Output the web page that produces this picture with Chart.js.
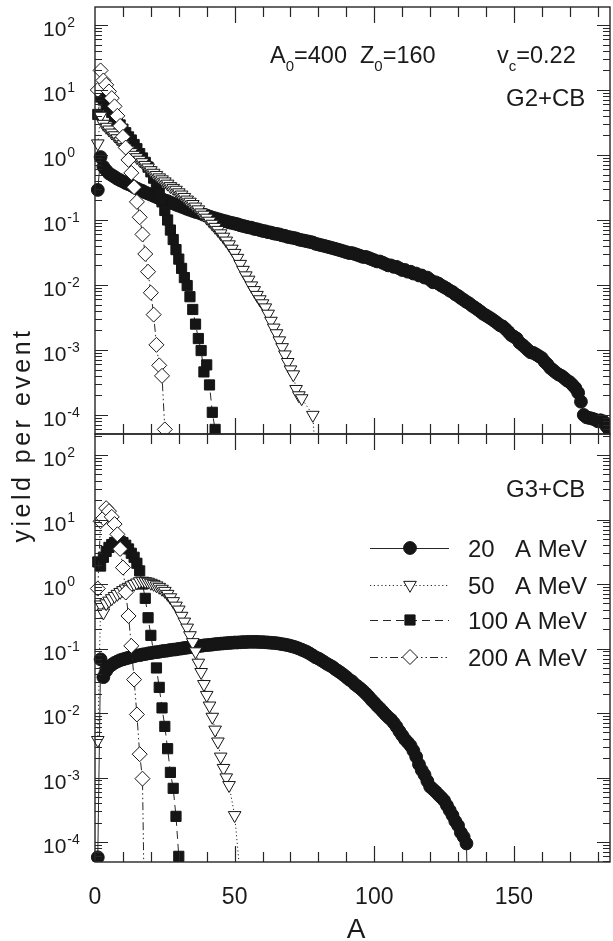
<!DOCTYPE html>
<html>
<head>
<meta charset="utf-8">
<script src="https://cdn.jsdelivr.net/npm/chart.js@4.4.1/dist/chart.umd.min.js"></script>
<style>
  html, body { margin: 0; padding: 0; background: #fff; }
  #wrap { position: relative; width: 613px; height: 941px; }
  canvas { position: absolute; left: 0; top: 0; }
</style>
</head>
<body>
<div id="wrap">
  <canvas id="topPanel" width="613" height="941"></canvas>
  <canvas id="bottomPanel" width="613" height="941"></canvas>
</div>
<script>
// Fragment mass number A runs 1, 2, 3 ... along each series (null = no yield at that A).
const energies = ['20', '50', '100', '200'];

// Upper panel: G2+CB
const g2cb20 = [
  0.29, 0.93, 0.66, 0.58, 0.52, 0.49, 0.46, 0.43, 0.41, 0.39,
  0.37, 0.355, 0.34, 0.32, 0.305, 0.29, 0.28, 0.265, 0.255, 0.245,
  0.235, 0.225, 0.215, 0.21, 0.2, 0.195, 0.185, 0.18, 0.172, 0.166,
  0.16, 0.154, 0.148, 0.143, 0.138, 0.133, 0.13, 0.125, 0.12, 0.117,
  0.113, 0.109, 0.106, 0.103, 0.1, 0.097, 0.095, 0.092, 0.09, 0.088,
  0.086, 0.083, 0.081, 0.079, 0.077, 0.076, 0.073, 0.072, 0.07, 0.068,
  0.067, 0.065, 0.064, 0.062, 0.061, 0.06, 0.058, 0.057, 0.055, 0.054,
  0.053, 0.052, 0.05, 0.049, 0.048, 0.047, 0.046, 0.045, 0.043, 0.042,
  0.041, 0.04, 0.039, 0.038, 0.037, 0.036, 0.035, 0.034, 0.033, 0.032,
  0.031, 0.031, 0.03, 0.029, 0.028, 0.027, 0.027, 0.026, 0.025, 0.024,
  0.023, 0.023, 0.022, 0.021, 0.02, 0.02, 0.019, 0.019, 0.018, 0.017,
  0.017, 0.016, 0.016, 0.015, 0.015, 0.014, 0.014, 0.013, 0.013, 0.012,
  0.011, 0.011, 0.0105, 0.0098, 0.0093, 0.0088, 0.0082, 0.0078, 0.0072, 0.0068,
  0.0063, 0.0059, 0.0055, 0.0052, 0.0048, 0.0045, 0.0042, 0.0039, 0.0036, 0.0034,
  0.0032, 0.003, 0.0028, 0.0026, 0.0024, 0.0023, 0.0021, 0.0019, 0.0017, 0.0016,
  0.0015, 0.0013, 0.0012, 0.0011, 0.001, 0.00092, 0.0009, 0.00085, 0.0008, 0.00075,
  0.00066, 0.0006, 0.00053, 0.00049, 0.00045, 0.00042, 0.0004, 0.00037, 0.00034, 0.00032,
  0.00029, 0.00026, 0.00022, 0.00016, 0.0001, 0.000092, 0.00009, 0.000088, 0.000085, 0.00008,
  0.000083, 0.00008, 0.000068, 0.00006
];
const g2cb50 = [
  1.5, 4.0, 3.0, 2.7, 2.45, 2.2, 2.0, 1.8, 1.62, 1.46,
  1.32, 1.2, 1.1, 1.0, 0.92, 0.84, 0.77, 0.7, 0.64, 0.58,
  0.53, 0.49, 0.45, 0.42, 0.39, 0.36, 0.33, 0.31, 0.29, 0.265,
  0.245, 0.225, 0.205, 0.19, 0.175, 0.16, 0.145, 0.13, 0.12, 0.108,
  0.097, 0.087, 0.078, 0.07, 0.062, 0.055, 0.048, 0.042, 0.036, 0.031,
  0.026, 0.021, 0.017, 0.014, 0.012, 0.0098, 0.0083, 0.007, 0.006, 0.0052,
  0.0045, 0.0036, 0.0028, 0.0022, 0.0018, 0.0014, 0.0011, 0.00085, 0.00065, 0.0005,
  0.00042, 0.00025, 0.0002, 0.00018, null, null, null, 0.0001, 0.00002
];
const g2cb100 = [
  4.2, 7.8, 7.0, 6.0, 5.2, 4.5, 3.9, 3.3, 2.9, 2.5,
  2.2, 1.9, 1.7, 1.45, 1.25, 1.05, 0.9, 0.77, 0.65, 0.55,
  0.44, 0.34, 0.26, 0.19, 0.14, 0.1, 0.07, 0.05, 0.035, 0.025,
  0.018, 0.013, 0.0098, 0.0066, 0.0042, 0.0025, 0.0015, 0.00098, 0.00046, 0.00059,
  0.00029, 0.00011, 0.00006
];
const g2cb200 = [
  10, 20, 14, 12, 9.5, 7.5, 5.6, 4.0, 2.8, 1.9,
  1.3, 0.84, 0.53, 0.32, 0.19, 0.11, 0.06, 0.03, 0.016, 0.0076,
  0.0035, 0.0012, 0.00058, 0.0004, 0.00006
];

// Lower panel: G3+CB
const g3cb20 = [
  0.000058, 0.068, 0.036, 0.045, 0.052, 0.056, 0.06, 0.063, 0.066, 0.068,
  0.07, 0.072, 0.074, 0.076, 0.078, 0.079, 0.081, 0.082, 0.084, 0.085,
  0.087, 0.088, 0.089, 0.091, 0.092, 0.093, 0.095, 0.096, 0.097, 0.099,
  0.1, 0.102, 0.103, 0.105, 0.106, 0.108, 0.109, 0.11, 0.112, 0.113,
  0.114, 0.115, 0.117, 0.118, 0.119, 0.12, 0.121, 0.122, 0.123, 0.124,
  0.124, 0.125, 0.126, 0.126, 0.127, 0.127, 0.127, 0.127, 0.126, 0.126,
  0.125, 0.124, 0.123, 0.122, 0.121, 0.119, 0.117, 0.115, 0.113, 0.11,
  0.107, 0.104, 0.1, 0.096, 0.092, 0.088, 0.083, 0.078, 0.073, 0.07,
  0.066, 0.062, 0.058, 0.055, 0.052, 0.048, 0.045, 0.042, 0.039, 0.036,
  0.033, 0.031, 0.028, 0.026, 0.024, 0.022, 0.02, 0.018, 0.016, 0.0145,
  0.013, 0.0118, 0.0106, 0.0095, 0.0086, 0.0079, 0.007, 0.0061, 0.0052, 0.0045,
  0.0039, 0.0035, 0.0031, 0.0026, 0.0021, 0.0016, 0.0013, 0.0011, 0.00088, 0.00072,
  0.00066, 0.0006, 0.00054, 0.00049, 0.00044, 0.00037, 0.00031, 0.00026, 0.00021, 0.00018,
  0.00014, 0.00012, 0.000095, 0.000001
];
const g3cb50 = [
  0.0038, 0.48, 0.36, 0.5, 0.55, 0.6, 0.65, 0.7, 0.75, 0.8,
  0.85, 0.9, 0.95, 1.0, 1.05, 1.1, 1.12, 1.1, 1.08, 1.04,
  1.0, 0.95, 0.9, 0.84, 0.78, 0.7, 0.62, 0.54, 0.46, 0.4,
  0.32, 0.26, 0.21, 0.16, 0.125, 0.09, 0.06, 0.043, 0.028, 0.019,
  0.013, 0.0087, 0.0055, 0.0036, 0.0021, 0.0014, 0.001, 0.00076, null, 0.00026,
  null, 0.00003
];
const g3cb100 = [
  2.2, 1.9, 2.6, 3.2, 3.7, 4.1, 4.4, 4.6, 4.6, 4.4,
  4.0, 3.5, 3.0, 2.6, 2.1, 1.6, 1.0, 0.6, 0.3, 0.16,
  0.087, 0.05, 0.025, 0.012, 0.0062, 0.0028, 0.0012, 0.00068, 0.00025, 0.00006
];
const g3cb200 = [
  0.85, 9.4, 10.5, 15, 13.5, 11, 8.5, 5.9, 3.5, 1.8,
  0.74, 0.32, 0.11, 0.033, 0.0095, 0.0023, 0.00096, 0.000001
];

// Axis ticks and labels
const xTickLabels = ['0', '50', '100', '150'];
const xMinorStep = 10;
const yTickExponents = ['2', '1', '0', '-1', '-2', '-3', '-4'];
const legendNumbers = ['20', '50', '100', '200'];
const legendUnit = 'A MeV';

const FONT = '"Liberation Sans", Arial, sans-serif';
const INK = '#262626';

const markStyles = {
  '20':  { pointStyle: 'circle',  pointRadius: 6.4, pointRotation: 0,   pointBackgroundColor: '#151515', borderDash: [],                     order: 3 },
  '50':  { pointStyle: 'triangle', pointRadius: 7.3, pointRotation: 180, pointBackgroundColor: '#ffffff', borderDash: [1.2, 2.6],            order: 1 },
  '100': { pointStyle: 'rect',    pointRadius: 7.2, pointRotation: 0,   pointBackgroundColor: '#151515', borderDash: [8, 5],                 order: 2 },
  '200': { pointStyle: 'rectRot', pointRadius: 7.5, pointRotation: 0,   pointBackgroundColor: '#ffffff', borderDash: [8, 3, 1.5, 3, 1.5, 3], order: 0 }
};

function toPoints(values) {
  return values.map((v, i) => ({ x: i + 1, y: v }));
}

function makeDataset(energy, values) {
  const s = markStyles[energy];
  return {
    label: energy + ' A MeV',
    data: toPoints(values),
    borderColor: INK,
    borderWidth: 1,
    borderDash: s.borderDash,
    pointStyle: s.pointStyle,
    pointRadius: s.pointRadius,
    pointRotation: s.pointRotation,
    pointBackgroundColor: s.pointBackgroundColor,
    pointBorderColor: '#151515',
    pointBorderWidth: 1,
    spanGaps: true,
    tension: 0,
    order: s.order,
    clip: { left: 10, top: 0, right: 0, bottom: 0 }
  };
}

function drawRich(ctx, parts, x, y) {
  let cx = x;
  for (const p of parts) {
    ctx.font = p.size + 'px ' + FONT;
    ctx.fillText(p.text, cx, y + (p.dy || 0));
    cx += ctx.measureText(p.text).width;
  }
}

function drawMarker(ctx, style, x, y) {
  const r = style.pointRadius;
  ctx.beginPath();
  if (style.pointStyle === 'circle') {
    ctx.arc(x, y, r, 0, Math.PI * 2);
  } else if (style.pointStyle === 'triangle') {
    for (let k = 0; k < 3; k++) {
      const a = Math.PI + k * 2 * Math.PI / 3;
      const px = x + Math.sin(a) * r, py = y - Math.cos(a) * r;
      if (k === 0) ctx.moveTo(px, py); else ctx.lineTo(px, py);
    }
    ctx.closePath();
  } else if (style.pointStyle === 'rect') {
    const h = r * Math.SQRT1_2;
    ctx.rect(x - h, y - h, 2 * h, 2 * h);
  } else {
    ctx.moveTo(x, y - r); ctx.lineTo(x + r, y); ctx.lineTo(x, y + r); ctx.lineTo(x - r, y);
    ctx.closePath();
  }
  ctx.fillStyle = style.pointBackgroundColor;
  ctx.fill();
  ctx.lineWidth = 1;
  ctx.setLineDash([]);
  ctx.strokeStyle = '#151515';
  ctx.stroke();
}

const framePlugin = {
  id: 'frame',
  afterDraw(chart) {
    const cfg = chart.options.plugins.frame;
    const { ctx, chartArea: a } = chart;
    const xs = chart.scales.x, ys = chart.scales.y;
    ctx.save();
    ctx.strokeStyle = INK;
    ctx.lineWidth = 1.4;
    ctx.setLineDash([]);
    ctx.strokeRect(a.left, a.top, a.right - a.left, a.bottom - a.top);

    // log ticks on both vertical edges, pointing inward
    ctx.beginPath();
    ctx.lineWidth = 1.2;
    const lo = Math.floor(Math.log10(ys.min)), hi = Math.ceil(Math.log10(ys.max));
    for (let e = lo; e <= hi; e++) {
      for (let m = 1; m <= 9; m++) {
        const v = m * Math.pow(10, e);
        if (v < ys.min || v > ys.max) continue;
        const py = Math.round(ys.getPixelForValue(v)) + 0.5;
        const len = m === 1 ? 13 : 7;
        ctx.moveTo(a.left, py); ctx.lineTo(a.left + len, py);
        ctx.moveTo(a.right, py); ctx.lineTo(a.right - len, py);
      }
    }
    // linear ticks on both horizontal edges, pointing inward
    const majors = xTickLabels.map(Number);
    for (let v = xMinorStep; v <= xs.max; v += xMinorStep) {
      const px = Math.round(xs.getPixelForValue(v)) + 0.5;
      const len = majors.includes(v) ? 16 : 10;
      ctx.moveTo(px, a.top); ctx.lineTo(px, a.top + len);
      ctx.moveTo(px, a.bottom); ctx.lineTo(px, a.bottom - len);
    }
    ctx.stroke();

    // decade labels 10^n
    ctx.fillStyle = '#1a1a1a';
    ctx.textAlign = 'left';
    ctx.textBaseline = 'alphabetic';
    for (const ex of yTickExponents) {
      const py = ys.getPixelForValue(Math.pow(10, Number(ex)));
      ctx.font = '21px ' + FONT;
      ctx.fillText('10', 43, py + 11);
      const w = ctx.measureText('10').width;
      ctx.font = '14px ' + FONT;
      ctx.fillText(ex, 43 + w + 1, py + 2);
    }

    if (cfg.xLabels) {
      ctx.font = '23px ' + FONT;
      ctx.textAlign = 'center';
      for (const t of xTickLabels) {
        ctx.fillText(t, xs.getPixelForValue(Number(t)), 904);
      }
      ctx.font = '28px ' + FONT;
      ctx.fillText('A', 356, 938);

      // vertical axis title shared by both panels
      ctx.save();
      ctx.translate(30, 435);
      ctx.rotate(-Math.PI / 2);
      ctx.font = '25px ' + FONT;
      ctx.letterSpacing = '3.5px';
      ctx.textAlign = 'center';
      ctx.fillText('yield per event', 0, 0);
      ctx.restore();
    }

    ctx.textAlign = 'left';
    if (cfg.header) {
      drawRich(ctx, [
        { text: 'A', size: 23.5 }, { text: '0', size: 15, dy: 8 }, { text: '=400  ', size: 23.5 },
        { text: 'Z', size: 23.5 }, { text: '0', size: 15, dy: 8 }, { text: '=160', size: 23.5 }
      ], 270, 63);
      drawRich(ctx, [
        { text: 'v', size: 23.5 }, { text: 'c', size: 15, dy: 8 }, { text: '=0.22', size: 23.5 }
      ], 497, 63);
    }
    ctx.font = '24px ' + FONT;
    ctx.fillText(cfg.tag, 506, cfg.tagY);

    if (cfg.legend) {
      const rows = [548, 585, 620, 657];
      energies.forEach((en, i) => {
        const st = markStyles[en];
        const ry = rows[i];
        ctx.beginPath();
        ctx.strokeStyle = INK;
        ctx.lineWidth = 1;
        ctx.setLineDash(st.borderDash);
        ctx.moveTo(370, ry + 0.5); ctx.lineTo(449, ry + 0.5);
        ctx.stroke();
        drawMarker(ctx, st, 410, ry);
        ctx.fillStyle = '#1a1a1a';
        ctx.font = '24px ' + FONT;
        ctx.fillText(legendNumbers[i], 468, ry + 9);
        ctx.fillText(legendUnit, 515, ry + 9);
      });
    }
    ctx.restore();
  }
};

function makeChart(id, sets, yMin, yMax, padding, frame) {
  return new Chart(document.getElementById(id), {
    type: 'line',
    data: { datasets: energies.map((en, i) => makeDataset(en, sets[i])) },
    options: {
      responsive: false,
      maintainAspectRatio: false,
      animation: false,
      events: [],
      layout: { padding: padding, autoPadding: false },
      plugins: { legend: { display: false }, tooltip: { enabled: false }, frame: frame },
      scales: {
        x: { type: 'linear', min: 0, max: 184.4, display: false },
        y: { type: 'logarithmic', min: yMin, max: yMax, display: false }
      }
    },
    plugins: [framePlugin]
  });
}

makeChart('topPanel', [g2cb20, g2cb50, g2cb100, g2cb200], 5.1e-5, 189,
  { left: 95, right: 3, top: 7, bottom: 941 - 434 },
  { header: true, tag: 'G2+CB', tagY: 106, legend: false, xLabels: false });

makeChart('bottomPanel', [g3cb20, g3cb50, g3cb100, g3cb200], 4.9e-5, 212,
  { left: 95, right: 3, top: 434, bottom: 941 - 862 },
  { header: false, tag: 'G3+CB', tagY: 497, legend: true, xLabels: true });
</script>
</body>
</html>
